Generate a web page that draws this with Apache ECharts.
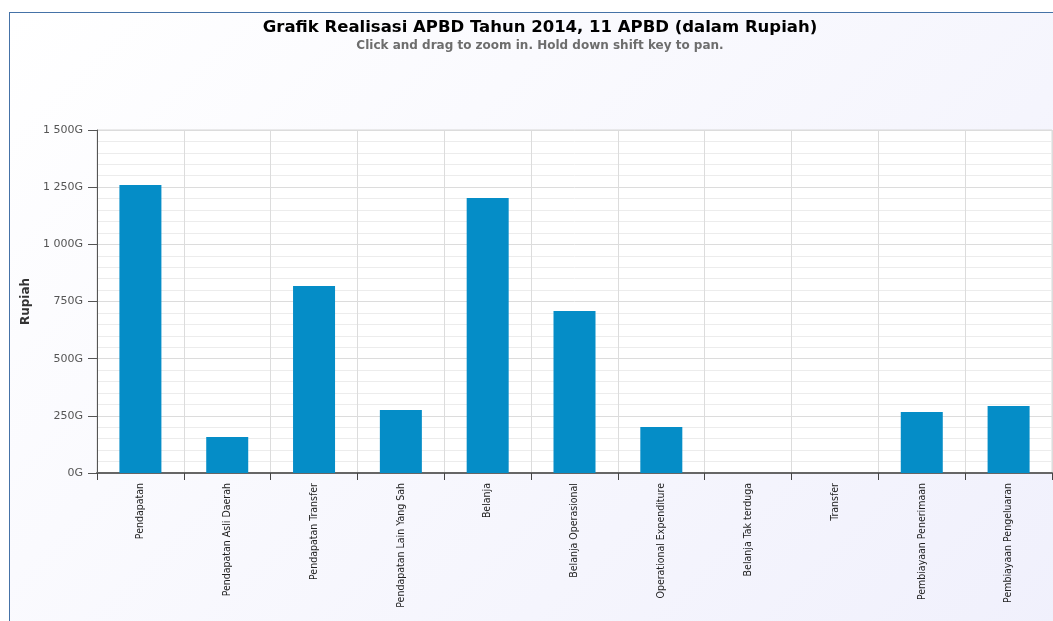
<!DOCTYPE html>
<html>
<head>
<meta charset="utf-8">
<script src="https://cdn.jsdelivr.net/npm/echarts@6/dist/echarts.min.js"></script>
<style>
  html, body { margin: 0; padding: 0; width: 1053px; height: 621px; overflow: hidden; background: #fff; }
  #frame {
    position: absolute; left: 9px; top: 12px; width: 1060px; height: 620px;
    border: 1px solid #4572A7;
    background: linear-gradient(135deg, #ffffff 0%, #f0f0fc 100%);
  }
  #chart { position: absolute; left: 0; top: 0; width: 1053px; height: 621px; }
</style>
</head>
<body>
<div id="frame"></div>
<div id="chart"></div>
<script>
// kategori anggaran
const categories = [
  'Pendapatan', 'Pendapatan Asli Daerah', 'Pendapatan Transfer', 'Pendapatan Lain Yang Sah',
  'Belanja', 'Belanja Operasional', 'Operational Expenditure', 'Belanja Tak terduga',
  'Transfer', 'Pembiayaan Penerimaan', 'Pembiayaan Pengeluaran'
]
// nilai realisasi (dalam G rupiah)
const realisasi = [1260, 157, 818, 275, 1203, 708, 201, 0, 0, 267, 293]
const yTicks = [0, 250, 500, 750, 1000, 1250, 1500]

const chart = echarts.init(document.getElementById('chart'))
const option = {
  backgroundColor: 'transparent',
  animation: false,
  title: {
    text: 'Grafik Realisasi APBD Tahun 2014, 11 APBD (dalam Rupiah)',
    subtext: 'Click and drag to zoom in. Hold down shift key to pan.',
    left: 535,
    textAlign: 'center',
    top: 14,
    itemGap: 4,
    textStyle: { fontFamily: 'DejaVu Sans', fontSize: 16.5, fontWeight: 'bold', color: '#000' },
    subtextStyle: { fontFamily: 'DejaVu Sans', fontSize: 12, fontWeight: 'bold', color: '#6d6d6d' }
  },
  grid: {
    left: 97,
    right: 1,
    top: 130,
    bottom: 148,
    show: true,
    backgroundColor: '#ffffff',
    borderColor: '#d8d8d8',
    borderWidth: 1
  },
  xAxis: {
    type: 'category',
    data: categories,
    boundaryGap: true,
    axisLine: { lineStyle: { color: '#666', width: 2 } },
    axisTick: { show: true, length: 7, lineStyle: { color: '#444' } },
    // garis vertikal di batas kategori
    splitLine: { show: true, lineStyle: { color: '#dcdcdc' } },
    axisLabel: {
      rotate: 90,
      interval: 0,
      margin: 10,
      fontFamily: 'Liberation Sans Narrow, DejaVu Sans Condensed, sans-serif',
      fontSize: 10.5,
      color: '#222'
    }
  },
  yAxis: {
    type: 'value',
    min: yTicks[0],
    max: yTicks[yTicks.length - 1],
    interval: 250,
    name: 'Rupiah',
    nameLocation: 'middle',
    nameGap: 54,
    nameTextStyle: { fontFamily: 'DejaVu Sans', fontSize: 12, fontWeight: 'bold', color: '#333' },
    axisLine: { show: true, lineStyle: { color: '#555' } },
    axisTick: { show: true, length: 9, lineStyle: { color: '#555' } },
    axisLabel: {
      margin: 14,
      fontFamily: 'DejaVu Sans',
      fontSize: 11,
      color: '#555',
      formatter: (val) => {
        return String(val).replace(/\B(?=(\d{3})+(?!\d))/g, ' ') + 'G'
      }
    },
    splitLine: { show: true, lineStyle: { color: '#dcdcdc' } },
    minorTick: { show: false, splitNumber: 5 },
    minorSplitLine: { show: true, lineStyle: { color: '#ececec' } }
  },
  series: [
    {
      type: 'bar',
      data: realisasi,
      barWidth: 42,
      itemStyle: {
        color: '#058DC7',
        borderWidth: 0
      }
    }
  ]
}
chart.setOption(option)
</script>
</body>
</html>
